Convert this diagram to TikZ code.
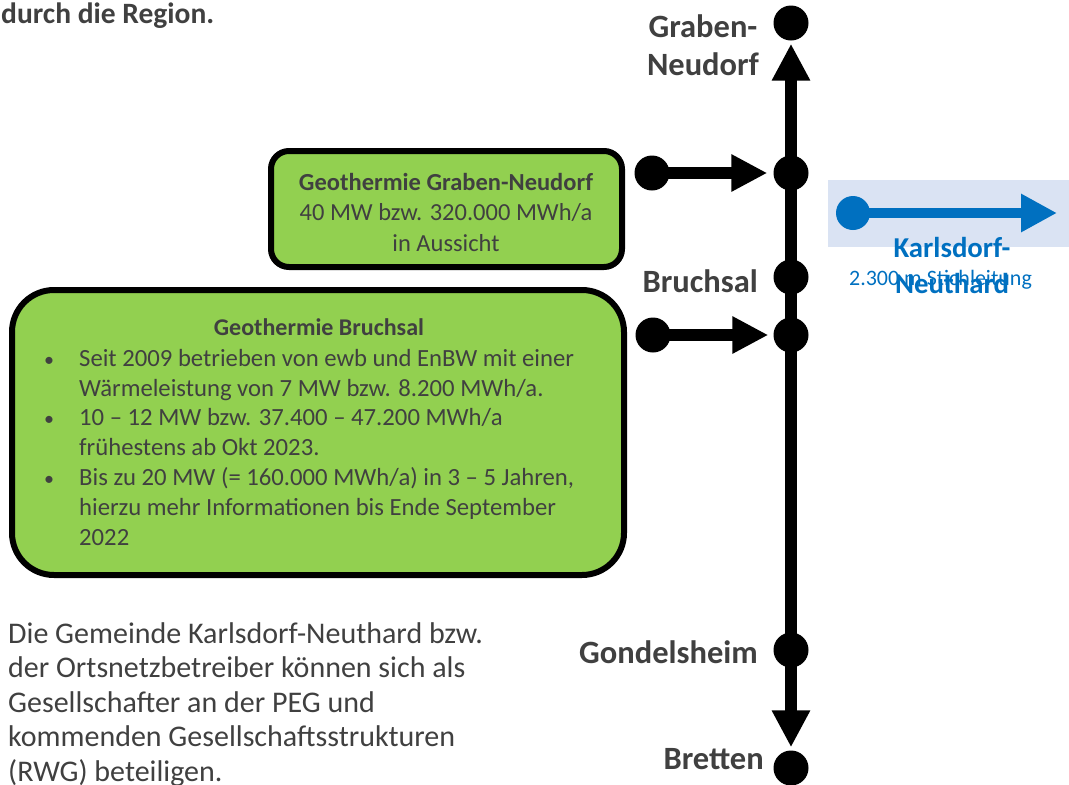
\documentclass[tikz,border=0pt]{standalone}
\usepackage{fontspec}
\setmainfont{Carlito}
\usetikzlibrary{arrows.meta}
\definecolor{txtgray}{HTML}{404040}
\definecolor{geogreen}{HTML}{92D050}
\definecolor{kblue}{HTML}{0070C0}
\definecolor{klight}{HTML}{DAE3F3}
\newcommand{\bulletmark}{\llap{\fontsize{20}{20}\selectfont•\hspace{25pt}}}
\begin{document}
\begin{tikzpicture}[x=1pt,y=-1pt,
  dot/.style={circle,fill=black,inner sep=0pt,minimum size=35pt},
  bluedot/.style={circle,fill=kblue,inner sep=0pt,minimum size=34pt},
  mainline/.style={line width=12pt,draw=black,
    arrows={Triangle[length=37pt,width=36pt]-Triangle[length=37pt,width=36pt]}},
  sideline/.style={line width=12pt,draw=black,
    arrows={-Triangle[length=36pt,width=35pt]}},
  blueline/.style={line width=10pt,draw=kblue,
    arrows={-Triangle[length=36pt,width=36pt]}},
  geobox/.style={draw=black,line width=6pt,fill=geogreen,inner sep=0pt},
  lbl/.style={font=\bfseries\fontsize{32.5}{38}\selectfont,text=txtgray,inner sep=0pt},
  body/.style={font=\fontsize{24.7}{29.8}\selectfont,text=txtgray,inner sep=0pt},
  gbody/.style={font=\fontsize{24.5}{30.5}\selectfont,text=txtgray,inner sep=0pt},
  para/.style={font=\fontsize{30}{34.5}\selectfont,text=txtgray,inner sep=0pt},
  kname/.style={font=\bfseries\fontsize{28.8}{36}\selectfont,text=kblue,inner sep=0pt},
  ksmall/.style={font=\fontsize{22}{26}\selectfont,text=kblue,inner sep=0pt}
]
\useasboundingbox (0,0) rectangle (1069,785);

% top-left heading fragment
\node[font=\bfseries\fontsize{29.5}{35}\selectfont,text=txtgray,inner sep=0pt,anchor=base west] (head) at (1,23) {durch die Region.};

% boxes
\node[geobox,rounded corners=18pt,minimum width=351pt,minimum height=116pt] (gbox) at (446.5,209) {};
\node[gbody,anchor=north,align=center] (gtext) at (446,173) {\textbf{Geothermie Graben-Neudorf}\\40 MW bzw. 320.000 MWh/a\\in Aussicht};

\node[geobox,rounded corners=42pt,minimum width=612pt,minimum height=285pt] (bbox) at (318,432.5) {};
\node[body,font=\bfseries\fontsize{24}{29.8}\selectfont,anchor=base] (btitle) at (319,335) {Geothermie Bruchsal};
\node[body,anchor=north west,align=left] (bbody) at (79,349) {\bulletmark Seit 2009 betrieben von ewb und EnBW mit einer\\
Wärmeleistung von 7 MW bzw. 8.200 MWh/a.\\
\bulletmark 10 – 12 MW bzw. 37.400 – 47.200 MWh/a\\
frühestens ab Okt 2023.\\
\bulletmark Bis zu 20 MW (= 160.000 MWh/a) in 3 – 5 Jahren,\\
hierzu mehr Informationen bis Ende September\\
2022};

% bottom paragraph
\node[para,anchor=north west,align=left] (para) at (8,622) {Die Gemeinde Karlsdorf-Neuthard bzw.\\
der Ortsnetzbetreiber können sich als\\
Gesellschafter an der PEG und\\
kommenden Gesellschaftsstrukturen\\
(RWG) beteiligen.};

% stations
\node[dot] (gntop) at (791,23) {};
\node[dot] (gnj) at (791,173) {};
\node[dot] (bruch) at (791,277) {};
\node[dot] (bj) at (791,335) {};
\node[dot] (gondel) at (791,650) {};
\node[dot] (bretten) at (791,768) {};

\draw[mainline,shorten <=3pt,shorten >=3pt] (gntop.south) -- (bretten.north);

% side feeds
\node[dot] (gnsrc) at (652,173) {};
\node[dot] (bsrc) at (653,335) {};
\draw[sideline,shorten >=6pt] (gnsrc.center) -- (gnj.west);
\draw[sideline,shorten >=5pt] (bsrc.center) -- (bj.west);

% station labels
\node[lbl,anchor=north,align=center] (lgn) at (703,14.3) {Graben-\\Neudorf};
\node[lbl,anchor=base east] (lbruch) at (758,292) {Bruchsal};
\node[lbl,anchor=base east] (lgondel) at (758,663) {Gondelsheim};
\node[lbl,anchor=base east] (lbretten) at (764,769) {Bretten};

% Karlsdorf-Neuthard branch
\node[fill=klight,inner sep=0pt,minimum width=241pt,minimum height=67pt] (kbg) at (948.5,213.5) {};
\node[bluedot] (kdot) at (853,213) {};
\coordinate (ktip) at (1057,213);
\draw[blueline] (kdot.center) -- (ktip);
\node[ksmall,anchor=base] (kstich) at (940.5,285) {2.300 m Stichleitung};
\node[kname,anchor=north,align=center] (kname) at (952,237) {Karlsdorf-\\Neuthard};
\end{tikzpicture}
\end{document}
